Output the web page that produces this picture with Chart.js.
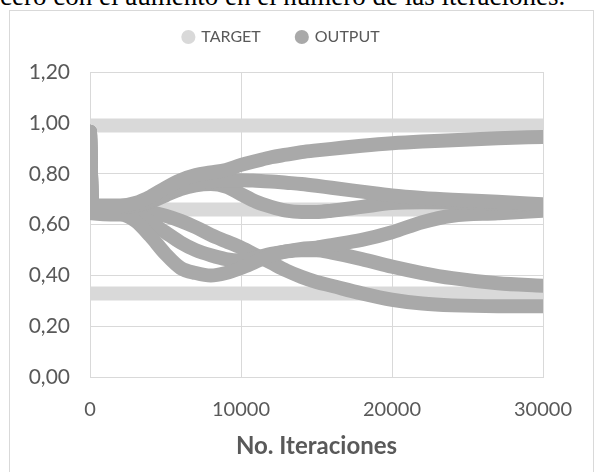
<!DOCTYPE html>
<html>
<head>
<meta charset="utf-8">
<script src="https://cdn.jsdelivr.net/npm/chart.js@4"></script>
<style>
  body { margin: 0; background: #fff; width: 601px; height: 472px; overflow: hidden; position: relative; }
  #caption { position: absolute; left: 0; top: -17px; font: 27px/27px "Liberation Serif", serif; color: #000; white-space: nowrap; }
  #frame { position: absolute; left: 9px; top: 10px; width: 583px; height: 470px; border: 1px solid #d9d9d9; background: #fff; }
  #wrap { position: absolute; left: 0; top: 0; width: 582px; height: 461px; }
</style>
</head>
<body>
<div id="caption">cero con el aumento en el número de las iteraciones.</div>
<div id="frame"><div id="wrap"><canvas id="myChart"></canvas></div></div>
<script>
const seriesNames = ['TARGET', 'OUTPUT']
const xTicks = [0, 10000, 20000, 30000]
const yTicks = ['0,00', '0,20', '0,40', '0,60', '0,80', '1,00', '1,20']

// iteraciones (eje x) compartidas por todas las curvas
const iters = [0, 150, 2000, 3000, 4000, 5000, 6000, 7000, 8000, 9000, 10000, 11000, 12000,
  13000, 14000, 15000, 16000, 18000, 20000, 22000, 24000, 27000, 30000]

const targetLevels = [0.99, 0.66, 0.33]

const out1 = [0.965, 0.675, 0.675, 0.685, 0.71, 0.745, 0.775, 0.795, 0.805, 0.815, 0.835, 0.85, 0.865,
  0.875, 0.885, 0.892, 0.898, 0.91, 0.92, 0.927, 0.932, 0.94, 0.945]
const out2 = [0.965, 0.67, 0.67, 0.675, 0.695, 0.725, 0.75, 0.765, 0.77, 0.775, 0.775, 0.773, 0.77,
  0.765, 0.76, 0.753, 0.745, 0.73, 0.715, 0.705, 0.698, 0.69, 0.68]
const out3 = [0.965, 0.67, 0.67, 0.675, 0.69, 0.715, 0.74, 0.755, 0.76, 0.75, 0.72, 0.69, 0.67,
  0.655, 0.65, 0.65, 0.655, 0.67, 0.685, 0.688, 0.687, 0.683, 0.675]
const out4 = [0.965, 0.645, 0.64, 0.615, 0.555, 0.485, 0.43, 0.41, 0.40, 0.41, 0.43, 0.455, 0.48,
  0.495, 0.505, 0.51, 0.52, 0.54, 0.57, 0.61, 0.635, 0.645, 0.655]
const out5 = [0.965, 0.665, 0.66, 0.645, 0.61, 0.57, 0.53, 0.50, 0.48, 0.465, 0.46, 0.47, 0.485,
  0.495, 0.5, 0.5, 0.49, 0.465, 0.435, 0.41, 0.39, 0.37, 0.36]
const out6 = [0.965, 0.67, 0.665, 0.66, 0.65, 0.635, 0.615, 0.59, 0.56, 0.535, 0.51, 0.48, 0.45,
  0.42, 0.395, 0.375, 0.36, 0.33, 0.305, 0.29, 0.283, 0.28, 0.28]
const outputs = [out1, out2, out3, out4, out5, out6]

const targetColor = '#d9d9d9'
const outputColor = '#a9a9a9'
const font = 'Lato'

const datasets = []
targetLevels.forEach(t => {
  datasets.push({
    label: seriesNames[0],
    data: [{x: xTicks[0], y: t}, {x: xTicks[xTicks.length - 1], y: t}],
    borderColor: targetColor,
    borderWidth: 14,
    borderCapStyle: 'round',
    pointRadius: 0,
    order: 1
  })
})
outputs.forEach(vals => {
  datasets.push({
    label: seriesNames[1],
    data: iters.map((x, i) => ({x: x, y: vals[i]})),
    borderColor: outputColor,
    borderWidth: 14,
    borderCapStyle: 'round',
    borderJoinStyle: 'round',
    cubicInterpolationMode: 'monotone',
    pointRadius: 0,
    order: 0
  })
})

const ctx = document.getElementById('myChart')
new Chart(ctx, {
  type: 'line',
  data: { datasets: datasets },
  options: {
    responsive: true,
    maintainAspectRatio: false,
    animation: false,
    layout: { padding: { top: -18, right: 39, left: 0, bottom: 0 } },
    scales: {
      x: {
        type: 'linear',
        min: 0,
        max: 30000,
        afterBuildTicks: s => { s.ticks = xTicks.map(v => ({value: v})) },
        afterFit: s => { s.height = 94.6 },
        grid: { color: '#d9d9d9', drawTicks: false },
        border: { color: '#d9d9d9' },
        ticks: { padding: 20, color: '#595959', font: { family: font, size: 20 }, callback: v => String(v) },
        title: {
          display: true,
          text: 'No. Iteraciones',
          color: '#595959',
          padding: { top: 0, bottom: 11 },
          font: { family: font, size: 24, weight: 'bold' }
        }
      },
      // eje vacío que sólo separa la leyenda del área del gráfico
      spacer: {
        type: 'linear',
        position: 'top',
        display: true,
        afterFit: s => { s.height = 17 },
        grid: { display: false, drawTicks: false },
        border: { display: false },
        ticks: { display: false }
      },
      y: {
        min: 0,
        max: 1.2,
        ticks: {
          stepSize: 0.2,
          padding: 20,
          color: '#595959',
          font: { family: font, size: 21 },
          callback: (v, i) => yTicks[i]
        },
        afterFit: s => { s.width = 80 },
        grid: { color: '#d9d9d9', drawTicks: false },
        border: { color: '#d9d9d9' }
      }
    },
    plugins: {
      legend: {
        display: true,
        position: 'top',
        labels: {
          usePointStyle: true,
          boxWidth: 10,
          boxHeight: 10,
          padding: 36,
          color: '#595959',
          font: { family: font, size: 16 },
          generateLabels: () => seriesNames.map((n, i) => ({
            text: n,
            fillStyle: i === 0 ? targetColor : outputColor,
            strokeStyle: i === 0 ? targetColor : outputColor,
            lineWidth: 0,
            pointStyle: 'circle',
            fontColor: '#595959',
            datasetIndex: i === 0 ? 0 : 3
          }))
        }
      },
      tooltip: { enabled: false }
    }
  }
})
</script>
</body>
</html>
